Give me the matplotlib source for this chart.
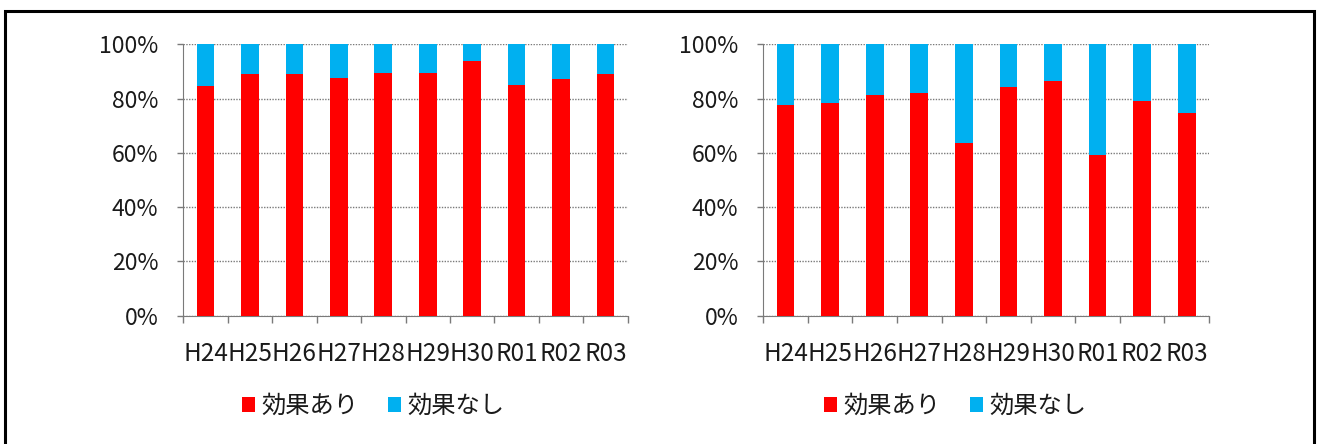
import matplotlib
matplotlib.use("Agg")
import matplotlib.pyplot as plt
from matplotlib.patches import Patch, Rectangle
import numpy as np

plt.rcParams['font.family'] = ['Noto Sans CJK JP', 'DejaVu Sans']

categories = ["H24", "H25", "H26", "H27", "H28", "H29", "H30", "R01", "R02", "R03"]
left_effective = [84.6, 89.2, 89.2, 87.6, 89.6, 89.6, 94.0, 85.1, 87.1, 89.2]
right_effective = [77.5, 78.5, 81.3, 81.9, 63.8, 84.3, 86.6, 59.3, 79.0, 74.7]
label_yes = "効果あり"
label_no = "効果なし"

RED = "#FF0000"
BLUE = "#00B0F0"
GRID = "#7a7a7a"

W, H = 1317, 444
fig = plt.figure(figsize=(W / 100, H / 100), dpi=100)

def fx(px):
    return px / W

def fy(py):
    return 1 - py / H

def draw(ax, eff):
    x = np.arange(len(categories))
    eff = np.array(eff) / 100.0
    ax.bar(x, eff, width=0.4, color=RED, zorder=3)
    ax.bar(x, 1 - eff, bottom=eff, width=0.4, color=BLUE, zorder=3)
    ax.set_xlim(-0.5, len(categories) - 0.5)
    ax.set_ylim(0, 1)
    ax.set_yticks(np.linspace(0, 1, 6))
    ax.set_yticklabels([f"{int(v)}%" for v in np.linspace(0, 100, 6)])
    ax.set_xticks(x)
    ax.set_xticklabels(categories)
    ax.set_xticks(np.arange(len(categories) + 1) - 0.5, minor=True)
    ax.tick_params(axis='x', which='major', length=0, pad=18, labelsize=17.5, colors='#1a1a1a')
    ax.tick_params(axis='x', which='minor', length=5, width=1, color=GRID, direction='out')
    ax.tick_params(axis='y', which='major', length=4, width=1, color=GRID, pad=14, labelsize=16.5, labelcolor='#1a1a1a')
    ax.grid(axis='y', color=GRID, linestyle=(0, (1, 1)), linewidth=1, zorder=0)
    for s in ['top', 'right']:
        ax.spines[s].set_visible(False)
    ax.spines['left'].set_color(GRID)
    ax.spines['left'].set_linestyle((0, (1, 1)))
    ax.spines['bottom'].set_color(GRID)
    ax.set_axisbelow(True)

ax1 = fig.add_axes([fx(183.3), fy(315.7), fx(627.7) - fx(183.3), fy(44.3) - fy(315.7)])
ax2 = fig.add_axes([fx(763.3), fy(315.7), fx(1209) - fx(763.3), fy(44.3) - fy(315.7)])
draw(ax1, left_effective)
draw(ax2, right_effective)

handles = [Patch(facecolor=RED, edgecolor='none', label=label_yes),
           Patch(facecolor=BLUE, edgecolor='none', label=label_no)]
for cx in (373, 955):
    fig.legend(handles=handles, loc='center', bbox_to_anchor=(fx(cx), fy(406)),
               ncol=2, frameon=False, fontsize=17.5, handlelength=0.55, handleheight=0.55,
               handletextpad=0.25, columnspacing=1.2, labelcolor='#1a1a1a')

fig.patches.append(Rectangle((fx(5), -0.1), fx(1314) - fx(5), fy(11) + 0.1,
                             transform=fig.transFigure, fill=False,
                             edgecolor='black', linewidth=2.2, zorder=10))

fig.savefig("out.png", dpi=100)
